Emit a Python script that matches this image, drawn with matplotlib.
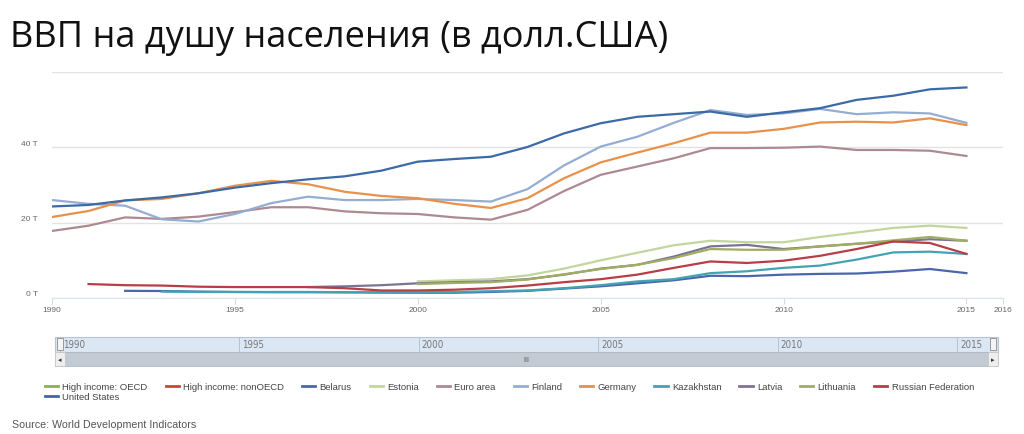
import numpy as np
import matplotlib
matplotlib.use("Agg")
from matplotlib import pyplot as plt
from matplotlib.patches import Rectangle
from matplotlib.lines import Line2D
from matplotlib.transforms import ScaledTranslation

years = list(range(1990, 2016))
N = None

high_income_oecd = [N] * 26
high_income_non_oecd = [N] * 26
belarus = [N, N, 1900, 1850, 1700, 1600, 1550, 1550, 1500, 1450, 1400, 1400, 1600, 1900,
           2500, 3100, 3900, 4700, 5900, 5800, 6200, 6400, 6500, 7000, 7700, 6600]
estonia = [N] * 10 + [4400, 4700, 5000, 6000, 7800, 10000, 12000, 14000, 15200, 14800,
                      14800, 16200, 17400, 18600, 19200, 18600]
euro_area = [17800, 19200, 21400, 21000, 21600, 22800, 24100, 24100, 23000, 22500, 22300,
             21400, 20800, 23400, 28400, 32700, 34900, 37100, 39800, 39800, 39900, 40200,
             39300, 39300, 39100, 37700]
finland = [26000, 25000, 24500, 20900, 20300, 22300, 25200, 26900, 26000, 26000, 26300,
           26000, 25600, 28900, 35200, 40200, 42800, 46500, 49900, 48600, 49000, 50200,
           48800, 49300, 49000, 46500]
germany = [21500, 23100, 25900, 26300, 27800, 29800, 31100, 30200, 28200, 27100, 26500,
           25000, 23900, 26500, 31800, 36000, 38600, 41100, 43900, 43900, 44900, 46600,
           46800, 46600, 47700, 45900]
kazakhstan = [N, N, N, 1700, 1600, 1600, 1600, 1600, 1550, 1500, 1500, 1600, 1800, 2000,
              2600, 3400, 4400, 5000, 6600, 7100, 8000, 8600, 10200, 12100, 12300, 11700]
latvia = [N] * 7 + [2900, 3100, 3400, 3900, 4200, 4400, 5000, 6200, 7800, 8800, 11000,
                    13700, 14100, 13000, 13700, 14400, 15000, 15600, 15200]
lithuania = [N] * 10 + [3700, 4000, 4200, 4900, 6300, 7700, 8800, 10600, 13000, 12800,
                        12800, 13700, 14400, 15300, 16200, 15200]
russia = [N, 3700, 3400, 3300, 3000, 2900, 2900, 2900, 2600, 2000, 2000, 2200, 2600, 3300,
          4200, 5000, 6200, 8000, 9700, 9300, 9900, 11200, 13000, 15000, 14600, 11700]
united_states = [24300, 24700, 25900, 26700, 27800, 29300, 30500, 31500, 32300, 33800,
                 36200, 36900, 37500, 40100, 43700, 46400, 48100, 48800, 49500, 48100,
                 49300, 50400, 52600, 53700, 55400, 55900]

series = [
    ("High income: OECD", high_income_oecd, "#8db04f"),
    ("High income: nonOECD", high_income_non_oecd, "#c9463d"),
    ("Belarus", belarus, "#4a66ad"),
    ("Estonia", estonia, "#c3d59e"),
    ("Euro area", euro_area, "#ad8a91"),
    ("Finland", finland, "#94add3"),
    ("Germany", germany, "#e8914a"),
    ("Kazakhstan", kazakhstan, "#44a3b3"),
    ("Latvia", latvia, "#7c7395"),
    ("Lithuania", lithuania, "#9fae60"),
    ("Russian Federation", russia, "#b83d46"),
    ("United States", united_states, "#3b6aa6"),
]

y_ticks = [0, 20000, 40000, 60000]
x_ticks = [1990, 1995, 2000, 2005, 2010, 2015, 2016]
nav_ticks = [1990, 1995, 2000, 2005, 2010, 2015]

W, H = 1024, 435
fig = plt.figure(figsize=(W / 100, H / 100), dpi=100)
fig.patch.set_facecolor("white")


def px_box(left, top, right, bottom):
    return [left / W, 1 - bottom / H, (right - left) / W, (bottom - top) / H]


# title
fig.text(10 / W, 1 - 38 / H, "ВВП на душу населения (в долл.США)", fontsize=26,
         family="Open Sans", color="#111111", va="center", ha="left")

# main chart
ax = fig.add_axes(px_box(52, 73, 1003, 299))
for name, values, color in series:
    vals = np.array([np.nan if v is None else v for v in values], dtype=float)
    ax.plot(years, vals, color=color, linewidth=1.6, solid_joinstyle="round")

ax.set_xlim(1990, 2016)
ax.set_ylim(0, 60000)
ax.set_yticks(y_ticks)
ax.set_yticklabels([f"{v // 1000} T" if v < 60000 else "" for v in y_ticks])
ax.set_xticks(x_ticks)
ax.set_xticklabels([str(x) for x in x_ticks])
ax.grid(axis="y", color="#e3e3e3", linewidth=1.0)
ax.set_axisbelow(True)
for side in ("left", "right", "top"):
    ax.spines[side].set_visible(False)
ax.spines["bottom"].set_color("#dde3ea")
ax.tick_params(axis="y", length=0, pad=10, labelsize=6, labelcolor="#666666")
ax.tick_params(axis="x", length=4, width=0.8, color="#d5dbe3", pad=2,
               labelsize=6, labelcolor="#666666")
offset = ScaledTranslation(0, 5 / 100, fig.dpi_scale_trans)
for label in ax.get_yticklabels():
    label.set_transform(label.get_transform() + offset)
    label.set_family("Liberation Sans")
for label in ax.get_xticklabels():
    label.set_family("Liberation Sans")

# navigator / scrollbar
nav = fig.add_axes(px_box(60, 338, 993, 367))
nav.set_xlim(1990, 2016)
nav.set_ylim(0, 2)
nav.axis("off")
ext_l = -5 / 933
ext_r = 1 + 5 / 933
trans = nav.get_yaxis_transform()  # x in axes, y in data
nav.add_patch(Rectangle((ext_l, 1), ext_r - ext_l, 1, transform=trans,
                        facecolor="#dbe7f5", edgecolor="#b7c4d6", linewidth=0.8,
                        clip_on=False))
nav.add_patch(Rectangle((ext_l, 0), ext_r - ext_l, 1, transform=trans,
                        facecolor="#c2cad3", edgecolor="#b0b8c2", linewidth=0.6,
                        clip_on=False))
for xa in (ext_l, ext_r - 10 / 933):
    nav.add_patch(Rectangle((xa, 0), 10 / 933, 1, transform=trans,
                            facecolor="#eeeeee", edgecolor="#c8c8c8", linewidth=0.6,
                            clip_on=False))
nav.text(ext_l + 5 / 933, 0.5, "◂", transform=trans, ha="center", va="center",
         fontsize=5, color="#333333")
nav.text(ext_r - 5 / 933, 0.5, "▸", transform=trans, ha="center", va="center",
         fontsize=5, color="#333333")
nav.text(0.5, 0.5, "III", transform=trans, ha="center", va="center",
         fontsize=5, color="#555555")
for yr in nav_ticks:
    nav.plot([yr, yr], [1, 2], color="#b8c2cf", linewidth=0.7, clip_on=False)
    nav.text(yr + 0.08, 1.5, str(yr), ha="left", va="center", fontsize=7,
             color="#777777", family="DejaVu Sans", fontstretch="condensed")
for xa in (0.0, 1.0):
    nav.add_patch(Rectangle((xa - 3 / 933, 1.1), 6 / 933, 0.8, transform=trans,
                            facecolor="#f4f4f4", edgecolor="#999999", linewidth=0.7,
                            clip_on=False, zorder=5))

# legend
handles = [Line2D([], [], color=c, linewidth=2) for _, _, c in series]
labels = [n for n, _, _ in series]
order = [0, 11] + list(range(1, 11))
leg = fig.legend([handles[i] for i in order], [labels[i] for i in order],
                 loc="upper left", bbox_to_anchor=(45 / W, 1 - 383 / H), ncol=11,
                 frameon=False, borderpad=0, borderaxespad=0, handlelength=1.4,
                 handletextpad=0.45, columnspacing=1.9, labelspacing=0.15,
                 prop={"family": "Liberation Sans", "size": 6.8})
for t in leg.get_texts():
    t.set_color("#444444")

fig.text(12 / W, 1 - 425 / H, "Source: World Development Indicators", fontsize=7.7,
         family="Liberation Sans", color="#555555", va="center", ha="left")

fig.savefig("out.png", dpi=100, facecolor="white")
